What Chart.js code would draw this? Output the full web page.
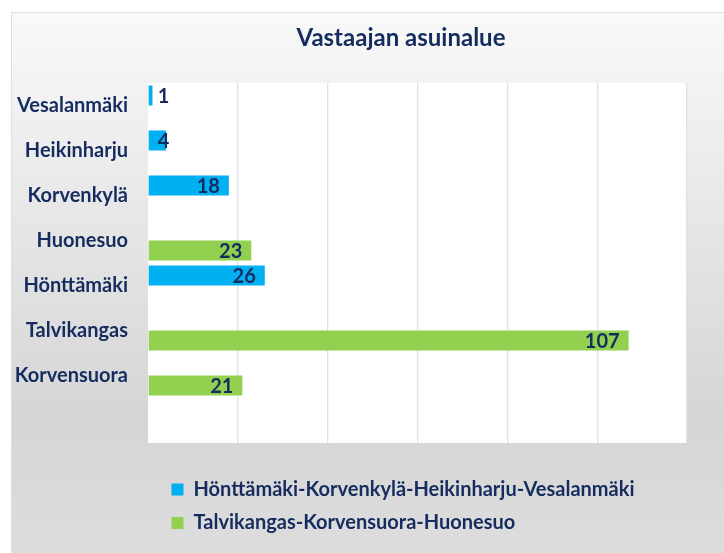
<!DOCTYPE html>
<html>
<head>
<meta charset="utf-8">
<script src="https://cdn.jsdelivr.net/npm/chart.js@4/dist/chart.umd.min.js"></script>
<style>
  html, body { margin: 0; padding: 0; background: #ffffff; }
  #wrap { width: 724px; height: 553px; position: relative; }
</style>
</head>
<body>
<div id="wrap"><canvas id="c" width="724" height="553"></canvas></div>
<script>
const categories = ['Vesalanmäki', 'Heikinharju', 'Korvenkylä', 'Huonesuo', 'Hönttämäki', 'Talvikangas', 'Korvensuora', ''];
const seriesNames = ['Hönttämäki-Korvenkylä-Heikinharju-Vesalanmäki', 'Talvikangas-Korvensuora-Huonesuo'];
const blueValues = [1, 4, 18, null, 26, null, null, null];
const greenValues = [null, null, null, 23, null, 107, 21, null];
const xTicks = [0, 20, 40, 60, 80, 100, 120];
const chartTitle = 'Vastaajan asuinalue';

const NAVY = '#152c5f';
const FONT = 'Lato, "Open Sans", sans-serif';

const framePlugin = {
  id: 'frame',
  beforeDraw(chart) {
    const ctx = chart.ctx;
    const W = chart.width, H = chart.height;
    ctx.save();
    const g = ctx.createLinearGradient(0, 12, 0, H);
    g.addColorStop(0, '#f9f9f9');
    g.addColorStop(0.75, '#d5d5d5');
    g.addColorStop(1, '#dddddd');
    ctx.fillStyle = g;
    ctx.fillRect(11, 12, W - 11, H - 12);
    ctx.strokeStyle = '#dce0e8';
    ctx.lineWidth = 1;
    ctx.beginPath();
    ctx.moveTo(11.5, H);
    ctx.lineTo(11.5, 12.5);
    ctx.lineTo(W, 12.5);
    ctx.stroke();
    const a = chart.chartArea;
    ctx.fillStyle = '#ffffff';
    ctx.fillRect(a.left, a.top, a.right - a.left, a.bottom - a.top);
    ctx.restore();
  }
};

const blockShift = {
  id: 'blockShift',
  afterLayout(chart) {
    if (chart.legend) {
      chart.legend.left += 10;
      chart.legend.right += 10;
    }
    if (chart.titleBlock) {
      chart.titleBlock.left += 52;
      chart.titleBlock.right += 52;
    }
  }
};

const valueLabels = {
  id: 'valueLabels',
  afterDatasetsDraw(chart) {
    const ctx = chart.ctx;
    ctx.save();
    ctx.font = 'bold 20px ' + FONT;
    ctx.fillStyle = NAVY;
    ctx.textAlign = 'right';
    ctx.textBaseline = 'middle';
    chart.data.datasets.forEach((ds, di) => {
      const meta = chart.getDatasetMeta(di);
      meta.data.forEach((bar, i) => {
        const v = ds.data[i];
        if (v === null || v === undefined) return;
        const txt = String(v);
        const w = ctx.measureText(txt).width;
        const base = bar.base;
        const right = Math.max(bar.x - 9, base + 9 + w);
        ctx.fillText(txt, right, bar.y + 1);
      });
    });
    ctx.restore();
  }
};

function start() {
  new Chart(document.getElementById('c'), {
    type: 'bar',
    data: {
      labels: categories,
      datasets: [
        { label: seriesNames[0], data: blueValues, backgroundColor: '#00b0f0', borderWidth: 0,
          categoryPercentage: 0.89, barPercentage: 1.0 },
        { label: seriesNames[1], data: greenValues, backgroundColor: '#92d050', borderWidth: 0,
          categoryPercentage: 0.89, barPercentage: 1.0 }
      ]
    },
    options: {
      indexAxis: 'y',
      responsive: false,
      animation: false,
      layout: { padding: { left: 11, right: 37, top: 12, bottom: 10 } },
      scales: {
        x: {
          min: 0, max: 120,
          afterBuildTicks(scale) { scale.ticks = xTicks.map(v => ({ value: v })); },
          ticks: { display: false },
          border: { display: false },
          grid: {
            drawTicks: false,
            lineWidth: 1.3,
            color: (c) => (c.tick && c.tick.value === 0) ? 'rgba(0,0,0,0)' : '#dde1e9'
          },
          afterFit(scale) { scale.height = 23; }
        },
        y: {
          offset: true,
          grid: { display: false, drawTicks: false },
          border: { display: false },
          ticks: {
            padding: 20,
            color: NAVY,
            font: { family: FONT, size: 20, weight: 'bold' },
            autoSkip: false
          },
          afterFit(scale) { scale.width = 137; }
        }
      },
      plugins: {
        title: {
          display: true,
          text: chartTitle,
          color: NAVY,
          font: { family: FONT, size: 24, weight: 'bold', lineHeight: 1.2 },
          padding: { top: 12, bottom: 30.2 }
        },
        legend: {
          display: true,
          position: 'bottom',
          align: 'start',
          fullSize: false,
          labels: {
            boxWidth: 12,
            boxHeight: 12,
            padding: 13.5,
            color: NAVY,
            font: { family: FONT, size: 20, weight: 'bold' }
          }
        },
        tooltip: { enabled: false }
      }
    },
    plugins: [framePlugin, blockShift, valueLabels]
  });
}

if (document.fonts && document.fonts.load) {
  Promise.all([
    document.fonts.load('bold 20px Lato'),
    document.fonts.load('bold 24px Lato')
  ]).then(start, start);
} else {
  start();
}
</script>
</body>
</html>
